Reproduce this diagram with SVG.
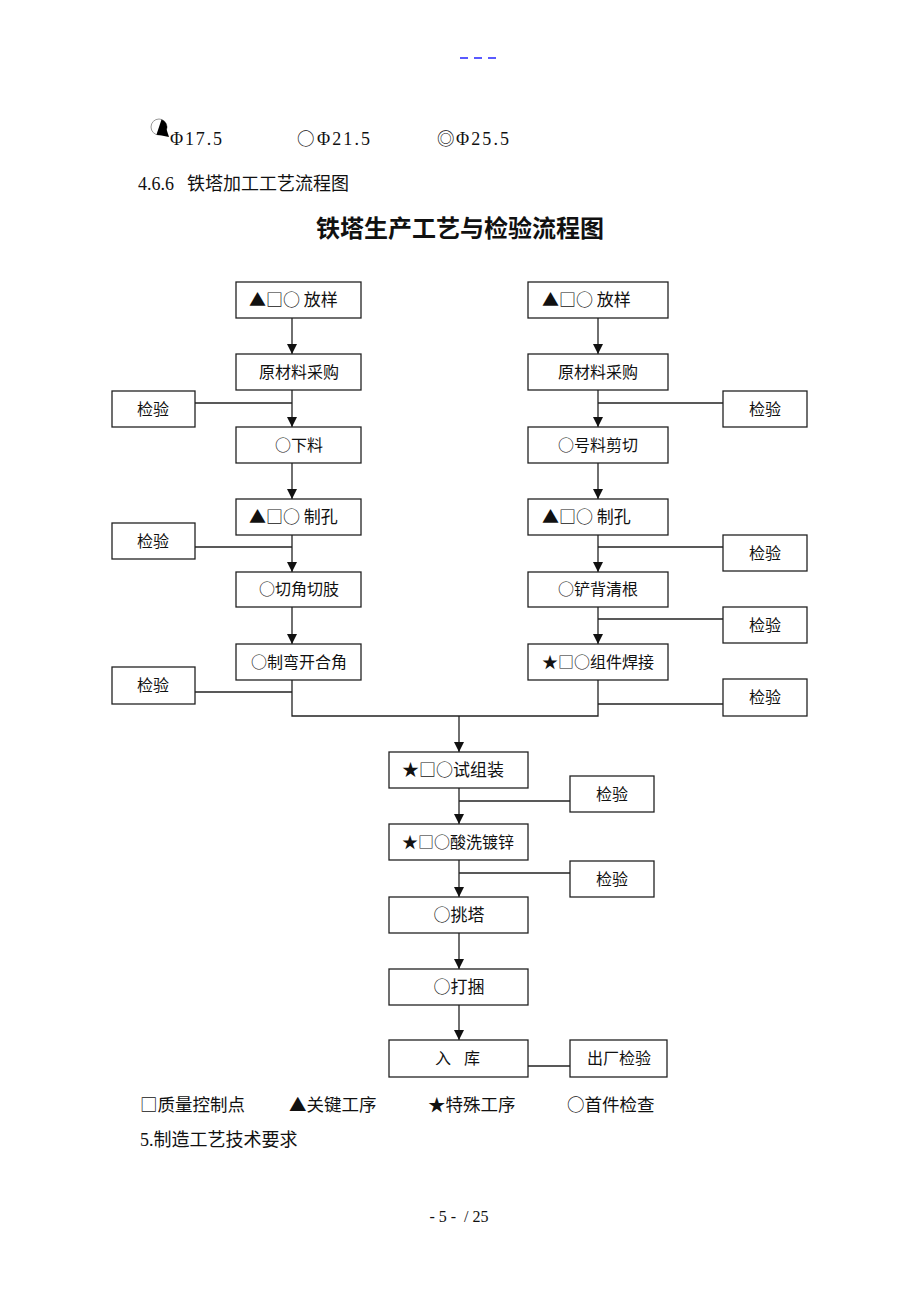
<svg xmlns="http://www.w3.org/2000/svg" width="920" height="1302" viewBox="0 0 920 1302">
<style>
.box{fill:#fff;stroke:#222;stroke-width:1.3}
.t{font-family:"Noto Sans CJK SC","Liberation Sans",sans-serif;font-size:16px;fill:#111}
.tl{font-family:"Noto Sans CJK SC","Liberation Sans",sans-serif;font-size:17px;fill:#111}
.c{text-anchor:middle}
.ln{fill:none;stroke:#222;stroke-width:1.3}
.doc{font-family:"Liberation Serif","Noto Sans CJK SC",serif;font-size:18px;fill:#111}
.leg{font-family:"Noto Sans CJK SC","Liberation Serif",sans-serif;font-size:17.5px;fill:#111}
.phi{font-family:"Liberation Serif","Noto Sans CJK SC",serif;font-size:18px;fill:#111}
</style>
<defs>
<marker id="ah" markerUnits="userSpaceOnUse" markerWidth="10" markerHeight="11" refX="10" refY="5" orient="auto" viewBox="0 0 10 10">
<path d="M0,0 L10,5 L0,10 z" fill="#111"/>
</marker>
</defs>
<rect width="920" height="1302" fill="#fff"/>

<g id="header">
<line x1="460" y1="58" x2="468" y2="58" stroke="#0000ff" stroke-width="1.3"/>
<line x1="474" y1="58" x2="482" y2="58" stroke="#0000ff" stroke-width="1.3"/>
<line x1="488" y1="58" x2="496" y2="58" stroke="#0000ff" stroke-width="1.3"/>
</g>

<g id="symbols-line">
<circle cx="159" cy="127" r="8" fill="#fff" stroke="#999" stroke-width="1"/>
<path d="M161.5,119.4 A8,8 0 0 1 156.5,134.6 Z" fill="#000"/>
<path d="M156.5,134.6 L166.6,129.5 L169,137 Z" fill="#000"/>
<text class="phi" x="170" y="145" textLength="52" lengthAdjust="spacing">Φ17.5</text>
<text class="leg" x="297" y="145" font-size="16px">○</text>
<text class="phi" x="317" y="145" textLength="53" lengthAdjust="spacing">Φ21.5</text>
<text class="leg" x="437" y="145" font-size="16px">◎</text>
<text class="phi" x="456" y="145" textLength="53" lengthAdjust="spacing">Φ25.5</text>
</g>

<text class="doc" x="138" y="190">4.6.6<tspan x="187">铁塔加工工艺流程图</tspan></text>
<text x="460" y="237" text-anchor="middle" font-family="Noto Sans CJK SC,sans-serif" font-size="24" font-weight="bold" fill="#111">铁塔生产工艺与检验流程图</text>

<g id="connectors">
<line class="ln" x1="292" y1="318" x2="292" y2="354" marker-end="url(#ah)"/>
<line class="ln" x1="292" y1="390" x2="292" y2="427" marker-end="url(#ah)"/>
<line class="ln" x1="195" y1="403" x2="292" y2="403"/>
<line class="ln" x1="292" y1="463" x2="292" y2="499" marker-end="url(#ah)"/>
<line class="ln" x1="292" y1="535" x2="292" y2="572" marker-end="url(#ah)"/>
<line class="ln" x1="195" y1="547" x2="292" y2="547"/>
<line class="ln" x1="292" y1="607" x2="292" y2="644" marker-end="url(#ah)"/>
<line class="ln" x1="195" y1="692" x2="292" y2="692"/>
<polyline class="ln" points="292,680 292,716 598,716 598,680"/>

<line class="ln" x1="598" y1="318" x2="598" y2="354" marker-end="url(#ah)"/>
<line class="ln" x1="598" y1="390" x2="598" y2="427" marker-end="url(#ah)"/>
<line class="ln" x1="598" y1="403" x2="723" y2="403"/>
<line class="ln" x1="598" y1="463" x2="598" y2="499" marker-end="url(#ah)"/>
<line class="ln" x1="598" y1="535" x2="598" y2="572" marker-end="url(#ah)"/>
<line class="ln" x1="598" y1="547" x2="723" y2="547"/>
<line class="ln" x1="598" y1="607" x2="598" y2="644" marker-end="url(#ah)"/>
<line class="ln" x1="598" y1="619" x2="723" y2="619"/>
<line class="ln" x1="598" y1="704" x2="723" y2="704"/>

<line class="ln" x1="459" y1="716" x2="459" y2="752" marker-end="url(#ah)"/>
<line class="ln" x1="459" y1="788" x2="459" y2="824" marker-end="url(#ah)"/>
<line class="ln" x1="459" y1="801" x2="570" y2="801"/>
<line class="ln" x1="459" y1="860" x2="459" y2="897" marker-end="url(#ah)"/>
<line class="ln" x1="459" y1="873" x2="570" y2="873"/>
<line class="ln" x1="459" y1="933" x2="459" y2="969" marker-end="url(#ah)"/>
<line class="ln" x1="459" y1="1005" x2="459" y2="1040" marker-end="url(#ah)"/>
<line class="ln" x1="528" y1="1066" x2="570" y2="1066"/>
</g>

<g id="L1"><rect class="box" x="236" y="282" width="125" height="36"/><text class="tl" x="249" y="306">▲□○ 放样</text></g>
<g id="L2"><rect class="box" x="236" y="354" width="125" height="36"/><text class="t c" x="299" y="378">原材料采购</text></g>
<g id="L3"><rect class="box" x="236" y="427" width="125" height="36"/><text class="t c" x="299" y="451">○下料</text></g>
<g id="L4"><rect class="box" x="236" y="499" width="125" height="36"/><text class="tl" x="249" y="523">▲□○ 制孔</text></g>
<g id="L5"><rect class="box" x="236" y="572" width="125" height="35"/><text class="t c" x="299" y="595">○切角切肢</text></g>
<g id="L6"><rect class="box" x="236" y="644" width="125" height="36"/><text class="t c" x="299" y="668">○制弯开合角</text></g>

<g id="LI1"><rect class="box" x="112" y="391" width="83" height="36"/><text class="t c" x="153" y="415">检验</text></g>
<g id="LI2"><rect class="box" x="112" y="523" width="83" height="36"/><text class="t c" x="153" y="547">检验</text></g>
<g id="LI3"><rect class="box" x="112" y="667" width="83" height="37"/><text class="t c" x="153" y="691">检验</text></g>

<g id="R1"><rect class="box" x="528" y="282" width="140" height="36"/><text class="tl" x="542" y="306">▲□○ 放样</text></g>
<g id="R2"><rect class="box" x="528" y="354" width="140" height="36"/><text class="t c" x="598" y="378">原材料采购</text></g>
<g id="R3"><rect class="box" x="528" y="427" width="140" height="36"/><text class="t c" x="598" y="451">○号料剪切</text></g>
<g id="R4"><rect class="box" x="528" y="499" width="140" height="36"/><text class="tl" x="542" y="523">▲□○ 制孔</text></g>
<g id="R5"><rect class="box" x="528" y="572" width="140" height="35"/><text class="t c" x="598" y="595">○铲背清根</text></g>
<g id="R6"><rect class="box" x="528" y="644" width="140" height="36"/><text class="t" x="542" y="668">★□○组件焊接</text></g>

<g id="RI1"><rect class="box" x="723" y="391" width="84" height="36"/><text class="t c" x="765" y="415">检验</text></g>
<g id="RI2"><rect class="box" x="723" y="535" width="84" height="36"/><text class="t c" x="765" y="559">检验</text></g>
<g id="RI3"><rect class="box" x="723" y="607" width="84" height="36"/><text class="t c" x="765" y="631">检验</text></g>
<g id="RI4"><rect class="box" x="723" y="679" width="84" height="37"/><text class="t c" x="765" y="703">检验</text></g>

<g id="C1"><rect class="box" x="389" y="752" width="139" height="36"/><text class="tl" x="402" y="776">★□○试组装</text></g>
<g id="C2"><rect class="box" x="389" y="824" width="139" height="36"/><text class="t" x="402" y="848">★□○酸洗镀锌</text></g>
<g id="C3"><rect class="box" x="389" y="897" width="139" height="36"/><text class="tl c" x="459" y="921">○挑塔</text></g>
<g id="C4"><rect class="box" x="389" y="969" width="139" height="36"/><text class="tl c" x="459" y="993">○打捆</text></g>
<g id="C5"><rect class="box" x="389" y="1040" width="139" height="37"/><text class="t" x="435" y="1064">入<tspan x="464">库</tspan></text></g>

<g id="CI1"><rect class="box" x="570" y="776" width="84" height="36"/><text class="t c" x="612" y="800">检验</text></g>
<g id="CI2"><rect class="box" x="570" y="861" width="84" height="36"/><text class="t c" x="612" y="885">检验</text></g>
<g id="CI3"><rect class="box" x="570" y="1040" width="97" height="37"/><text class="t c" x="619" y="1064">出厂检验</text></g>

<g id="legend">
<text class="leg" x="140" y="1111">□质量控制点</text>
<text class="leg" x="289" y="1111">▲关键工序</text>
<text class="leg" x="428" y="1111">★特殊工序</text>
<text class="leg" x="567" y="1111">○首件检查</text>
</g>
<text class="doc" x="140" y="1146">5.制造工艺技术要求</text>
<text x="459" y="1222" text-anchor="middle" font-family="Liberation Serif,serif" font-size="16" fill="#111" xml:space="preserve">- 5 -  / 25</text>
</svg>
